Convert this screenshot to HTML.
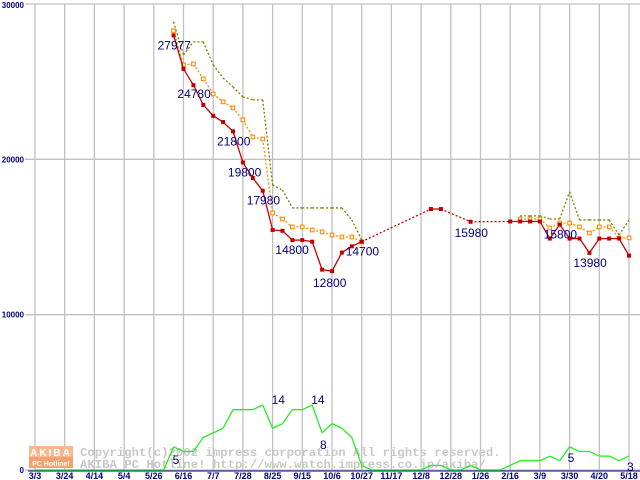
<!DOCTYPE html>
<html><head><meta charset="utf-8"><style>
body{margin:0;background:#fff;}
svg{display:block;font-family:"Liberation Sans",sans-serif;}
</style></head><body>
<svg id="chart" width="640" height="480" xmlns="http://www.w3.org/2000/svg">
<rect width="640" height="480" fill="#fff"/>
<g id="grid"></g>
<g id="wm">
<rect x="29" y="446" width="44" height="11" fill="#f8b890"/>
<rect x="29" y="457" width="44" height="11" fill="#f4a070"/>
<text x="51" y="456" font-size="10" font-weight="bold" fill="#fff" text-anchor="middle" letter-spacing="2">AKIBA</text>
<text x="51" y="466" font-size="7" font-weight="bold" fill="#fff" text-anchor="middle">PC Hotline!</text>
<text x="80" y="456" font-size="12.3" font-weight="bold" fill="#c8c8c8" font-family="Liberation Mono, monospace">Copyright(c)2002 impress corporation All rights reserved.</text>
<text x="80" y="468" font-size="12.3" font-weight="bold" fill="#c8c8c8" font-family="Liberation Mono, monospace">AKIBA PC Hotline!  http://www.watch.impress.co.jp/akiba/</text>
</g>
<g id="series"></g>
<g id="labels"></g>
</svg>
<script>
const xLabels=["3/3","3/24","4/14","5/4","5/26","6/16","7/7","7/28","8/25","9/15","10/6","10/27","11/17","12/8","12/28","1/26","2/16","3/9","3/30","4/20","5/18"];
const yTicks=[0,10000,20000,30000];
const redWeeks=[14,15,16,17,18,19,20,21,22,23,24,25,26,27,28,29,30,31,32,33,40,41,44,48,49,50,51,52,53,54,55,56,57,58,59,60];
const redVals=[27977,25820,24780,23500,22800,22400,21800,19800,18800,17980,15450,15400,14800,14800,14700,12900,12800,14000,14400,14700,16800,16800,15980,16000,16000,16000,16000,14900,15800,14900,14900,13980,14900,14900,14900,13800];
const orWeeks=[14,15,16,17,18,19,20,21,22,23,24,25,26,27,28,29,30,31,32,33,49,50,51,52,53,54,55,56,57,58,59,60];
const orVals=[28270,26080,26140,25180,24210,23700,23310,22540,21440,21310,16550,16160,15650,15650,15450,15330,15130,15000,15000,14680,16160,16160,16160,15580,15900,15900,15650,15260,15650,15650,14940,14940];
const olWeeks=[14,15,16,17,18,19,20,21,22,23,24,25,26,27,28,29,30,31,32,33,49,50,51,52,53,54,55,56,57,58,59,60];
const olVals=[28850,26720,27560,27560,26080,25240,24660,24020,23830,23830,18350,18030,16870,16870,16870,16870,16870,16870,16100,14810,16360,16360,16360,16160,16160,17900,16100,16100,16100,16100,15130,16100];
const cntWeeks=[0,13,14,15,16,17,19,20,22,23,24,25,26,27,28,29,30,31,32,33,34,39,40,41,42,43,44,45,47,49,51,52,53,54,55,56,57,58,59,60];
const cntVals=[0,0,5,4,4,7,9,13,13,14,9,10,13,13,14,8,10,9,7,1,0,0,1,1,0,0,1,0,0,2,2,3,2,5,4,4,3,3,2,3];
const priceLabels=[[27977,14,-16,9],[24780,16,-16,8],[21800,20,-16,9],[19800,21,-15,9],[17980,23,-16,9],[14800,26,-17,9],[12800,30,-19,11],[14700,33,-16,9],[15980,44,-16,10],[15800,53,-16,9],[13980,56,-16,9]];
const cntLabels=[[5,14,-1,12],[14,24,-1,-6],[14,28,-1,-6],[8,30,-12,11],[5,54,-2,10],[3,60,-2,10]];

const NS="http://www.w3.org/2000/svg";
const X=w=>35+w*9.9;
const Y=v=>470-v*466/30000;
const CY=c=>470-c*4.64;
function mk(parent,tag,attrs){const e=document.createElementNS(NS,tag);for(const k in attrs)e.setAttribute(k,attrs[k]);document.getElementById(parent).appendChild(e);return e;}

for(let i=0;i<xLabels.length;i++){
  const x=X(i*3);
  const l=mk('grid','line',{x1:x,y1:4,x2:x,y2:470,stroke:'#c0c0c0','stroke-width':1.3});
  
  
  const t=mk('grid','text',{x:x,y:479,'font-size':9,'font-weight':'bold',fill:'#000080','text-anchor':'middle'});
  t.textContent=xLabels[i];
  
  
}
for(const v of yTicks){
  const y=Y(v);
  const l=mk('grid','line',{x1:25,y1:y,x2:640,y2:y,stroke:'#c0c0c0','stroke-width':1.3});
  
  
  const t=mk('grid','text',{x:24,y:v===30000?y+4:y+3,'font-size':8,'font-weight':'bold',fill:'#000080','text-anchor':'end'});
  t.textContent=v;
  
  
}
const ax=mk('grid','line',{x1:28,y1:471,x2:640,y2:471,stroke:'#000080','stroke-width':1});



// mode: 'solid' never dashed; 'dashgap' dashed across gaps; 'dashskip' always dashed, skip gaps
function line(weeks,vals,yf,color,mode,name){
  for(let i=1;i<weeks.length;i++){
    const gap=weeks[i]-weeks[i-1]>1;
    if(mode==='dashskip'&&gap)continue;
    const a={x1:X(weeks[i-1]),y1:yf(vals[i-1]),x2:X(weeks[i]),y2:yf(vals[i]),stroke:color,'stroke-width':1.3};
    if(mode==='dashskip'||(mode==='dashgap'&&gap))a['stroke-dasharray']='2,2';
    const l=mk('series','line',a);
    
    
  }
}
line(cntWeeks,cntVals,CY,'#22ee22','solid','count-line');
line(olWeeks,olVals,Y,'#808000','dashskip','max-price-line');
line(orWeeks,orVals,Y,'#ff8800','dashskip','avg-price-line');
for(let i=0;i<orWeeks.length;i++){
  const m=mk('series','rect',{x:X(orWeeks[i])-1.8,y:Y(orVals[i])-1.8,width:3.6,height:3.6,fill:'#fff',stroke:'#ff8800','stroke-width':1.1});
  
  
}
line(redWeeks,redVals,Y,'#cc0000','dashgap','min-price-line');
for(let i=0;i<redWeeks.length;i++){
  const m=mk('series','rect',{x:X(redWeeks[i])-2,y:Y(redVals[i])-2,width:4,height:4,fill:'#c00000'});
  
  
}
for(const [v,w,dx,dy] of priceLabels){
  const t=mk('labels','text',{x:X(w)+dx,y:Y(v)+dy+5,'font-size':12,fill:'#000080'});
  t.textContent=v;
  
  
}
for(const [c,w,dx,dy] of cntLabels){
  const t=mk('labels','text',{x:X(w)+dx,y:CY(c)+dy+5,'font-size':12,fill:'#000080'});
  t.textContent=c;
  
  
}
</script>
</body></html>
